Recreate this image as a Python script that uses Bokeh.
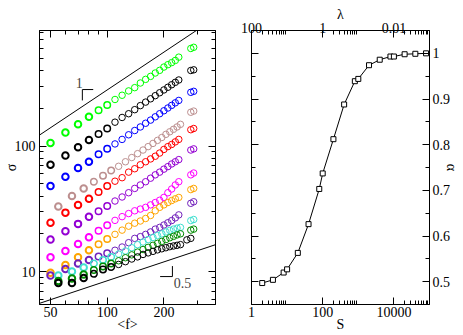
import numpy as np
from bokeh.plotting import figure
from bokeh.layouts import row
from bokeh.models import (LogAxis, LinearAxis, FixedTicker, CustomJSTickFormatter,
                          Label, ColumnDataSource, Range1d)
from bokeh.embed import file_html
from bokeh.resources import INLINE

FONT = "Liberation Serif"

# ---------------- left panel data: sigma vs <f> ----------------
f_main = [50, 60, 70, 80, 90, 100, 110, 120, 130, 140, 150, 160, 170, 180, 190, 200, 210, 220, 230, 240]
f_shift = [55, 65, 75, 85, 95, 105, 115, 125, 135, 145, 155, 165, 175, 185, 195, 205, 215, 225, 235, 245]
f_tail = [278, 288]
f_tail_low = [265, 278]

sig_green = [106, 128, 149, 171, 193, 212, 235, 254, 275, 292, 318, 340, 359, 382, 401, 426, 445, 462, 481, 511]
sig_green_tail = [599, 612]
sig_black = [71, 84, 98, 112, 125, 138, 155, 169, 181, 195, 210, 224, 238, 252, 266, 280, 294, 308, 322, 336]
sig_black_tail = [400, 405]
sig_blue = [48, 57, 67, 75, 86, 95, 104, 113, 123, 133, 142, 152, 161, 171, 181, 191, 201, 211, 221, 231]
sig_blue_tail = [268, 273]
sig_brown = [33, 40, 46, 52, 58, 64, 69, 75, 81, 87, 93, 99, 105, 111, 117, 124, 130, 136, 142, 149]
sig_brown_tail = [186, 190]
sig_red = [24.5, 29.5, 34, 38, 43, 48, 52.5, 56, 62, 66, 71, 75, 79, 83, 88, 94, 99, 103, 108, 113]
sig_red_tail = [135, 138]
sig_violet = [18, 21, 24, 27.3, 30.3, 33.3, 36.5, 39.3, 42.5, 46, 49, 52, 55.5, 59, 62, 65.5, 68.6, 72, 75, 78]
sig_violet_tail = [93, 95]
sig_magenta = [13, 14.6, 16.6, 18.8, 21.2, 23.4, 25.6, 27.4, 29, 30.5, 31.5, 32.5, 34, 35.5, 37, 39, 42.5, 45.5, 49, 52]
sig_magenta_tail = [59, 61]
sig_orange = [9.8, 11.3, 13, 14.8, 16.5, 18.2, 19.8, 21.4, 23, 24.3, 25.3, 26.5, 28, 30.5, 32.5, 34, 35.5, 36.8, 38, 39]
sig_orange_tail = [45, 46]
sig_indigo = [9.3, 10.5, 11.6, 12.4, 13.2, 14, 14.8, 15.7, 17, 18.4, 19, 19.8, 20.7, 21.8, 22.5, 23.5, 24.5, 25.5, 26.8, 28.3]
sig_indigo_tail = [35, 36]
sig_turq = [9.3, 10, 10.8, 11.6, 12.4, 13.1, 13.8, 14.6, 15.5, 16.4, 17.2, 18, 18.7, 19.4, 20, 20.7, 21.3, 21.8, 22.2, 22.5]
sig_turq_tail = [25.5, 26]
sig_green4 = [8.4, 8.8, 9.5, 10.3, 11, 11.6, 12.2, 12.9, 13.6, 14.3, 15, 15.6, 16.2, 16.8, 17.4, 18, 18.6, 19.1, 19.6, 20]
sig_green4_tail = [21.4, 21.8]
sig_black2 = [8.1, 8.1, 8.9, 9.6, 10.4, 10.9, 11.4, 12, 12.6, 13.1, 13.7, 14.1, 14.5, 14.9, 15.2, 15.5, 15.8, 16, 16.2, 16.4]
sig_black2_tail = [17.9, 18.4]

series = [
    ("#00ff00", f_main, sig_green, f_tail, sig_green_tail),
    ("#000000", f_main, sig_black, f_tail, sig_black_tail),
    ("#0000ff", f_main, sig_blue, f_tail, sig_blue_tail),
    ("#bc8f8f", f_shift, sig_brown, f_tail, sig_brown_tail),
    ("#ff0000", f_main, sig_red, f_tail, sig_red_tail),
    ("#9400d3", f_main, sig_violet, f_tail, sig_violet_tail),
    ("#ff00ff", f_main, sig_magenta, f_tail, sig_magenta_tail),
    ("#ffa500", f_main, sig_orange, f_tail, sig_orange_tail),
    ("#7221bc", f_main, sig_indigo, f_tail, sig_indigo_tail),
    ("#40e0d0", f_shift, sig_turq, f_tail, sig_turq_tail),
    ("#008b00", f_shift, sig_green4, f_tail, sig_green4_tail),
    ("#000000", f_shift, sig_black2, f_tail_low, sig_black2_tail),
]

# reference power laws: sigma = c * f^slope
ref_f = [40, 420]
ref_upper_c, ref_upper_slope = 2.8, 1.0
ref_lower_c, ref_lower_slope = 0.845, 0.5

# slope markers
upper_mark_x = [84.3, 73.8, 73.8]
upper_mark_y = [282, 282, 231]
upper_mark_text = ("1", 71, 320)
lower_mark_x = [191, 222, 222]
lower_mark_y = [9.13, 9.13, 11.07]
lower_mark_text = ("0.5", 226, 8.1)

x_major_l = [50, 100, 200]
x_minor_l = [60, 70, 80, 90, 300]
y_major_l = [10, 100]
y_minor_l = [6, 7, 8, 9, 20, 30, 40, 50, 60, 70, 80, 90, 200, 300, 400, 500, 600, 700, 800]

# ---------------- right panel data: alpha vs S ----------------
S_vals = [2, 4, 8, 10, 20, 40, 80, 100, 200, 400, 800, 1000, 2000, 4000, 8000, 10000, 20000, 40000, 80000]
alpha_vals = [0.497, 0.504, 0.52, 0.527, 0.563, 0.626, 0.703, 0.737, 0.812, 0.888, 0.939, 0.944,
              0.974, 0.986, 0.993, 0.993, 0.998, 0.999, 1.0]
x_major_r = [1, 100, 10000]
x_minor_r = [2, 3, 4, 5, 6, 7, 8, 9, 200, 300, 400, 500, 600, 700, 800, 900,
             20000, 30000, 40000, 50000, 60000, 70000, 80000, 90000]
y_major_r = [0.5, 0.6, 0.7, 0.8, 0.9, 1.0]
y_minor_r = [0.55, 0.65, 0.75, 0.85, 0.95]

FS = "14px"


def style_axis(ax, ticker, labels=True, code="return tick.toString()", label=None,
               standoff=3, label_standoff=0):
    ax.ticker = ticker
    ax.axis_line_color = "black"
    ax.major_tick_line_color = "black"
    ax.minor_tick_line_color = "black"
    ax.major_tick_in = 7
    ax.major_tick_out = 0
    ax.minor_tick_in = 4
    ax.minor_tick_out = 0
    ax.major_label_text_font = FONT
    ax.major_label_text_color = "black"
    ax.major_label_text_font_size = FS
    if labels:
        ax.major_label_standoff = standoff
        ax.formatter = CustomJSTickFormatter(code=code)
    else:
        ax.major_label_standoff = 0
        ax.formatter = CustomJSTickFormatter(code="return ''")
    if label is not None:
        ax.axis_label = label
        ax.axis_label_text_font = FONT
        ax.axis_label_text_font_size = FS
        ax.axis_label_text_font_style = "normal"
        ax.axis_label_text_color = "black"
        ax.axis_label_standoff = label_standoff


W1, W2, H = 233, 230, 335

# ---------------- left figure ----------------
p1 = figure(width=W1, height=H, x_axis_type="log", y_axis_type="log",
            x_range=Range1d(43.7, 376), y_range=Range1d(5.47, 833),
            output_backend="svg", toolbar_location=None,
            min_border_left=38, min_border_right=18, min_border_top=30, min_border_bottom=31)
p1.add_layout(LogAxis(), "above")
p1.add_layout(LogAxis(), "right")
p1.grid.visible = False
p1.outline_line_color = "black"
p1.background_fill_color = "white"
p1.border_fill_color = "white"

xt1 = FixedTicker(ticks=x_major_l, minor_ticks=x_minor_l)
yt1 = FixedTicker(ticks=y_major_l, minor_ticks=y_minor_l)
style_axis(p1.below[0], xt1, True, label="<f>", standoff=2, label_standoff=-3)
style_axis(p1.above[0], xt1, False)
style_axis(p1.left[0], yt1, True, label="σ", standoff=4, label_standoff=-7)
style_axis(p1.right[0], yt1, False)

p1.line(ref_f, [ref_upper_c * f ** ref_upper_slope for f in ref_f], line_color="black", line_width=1)
p1.line(ref_f, [ref_lower_c * f ** ref_lower_slope for f in ref_f], line_color="black", line_width=1)

for color, fx, sg, ftx, sgt in series:
    xs = list(fx) + list(ftx)
    ys = list(sg) + list(sgt)
    lw = [2.0 if x < 85 else (1.5 if x < 110 else 1.0) for x in xs]
    src = ColumnDataSource(dict(x=xs, y=ys, lw=lw))
    p1.scatter("x", "y", source=src, marker="circle", size=6.5, fill_color=None,
               line_color=color, line_width="lw")

p1.line(upper_mark_x, upper_mark_y, line_color="black", line_width=1)
p1.line(lower_mark_x, lower_mark_y, line_color="black", line_width=1)
p1.add_layout(Label(x=upper_mark_text[1], y=upper_mark_text[2], text=upper_mark_text[0],
                    text_align="center", text_baseline="middle", text_font=FONT, text_font_size=FS))
p1.add_layout(Label(x=lower_mark_text[1], y=lower_mark_text[2], text=lower_mark_text[0],
                    text_align="left", text_baseline="middle", text_font=FONT, text_font_size=FS))

# ---------------- right figure ----------------
p2 = figure(width=W2, height=H, x_axis_type="log",
            x_range=Range1d(1, 1e5), y_range=Range1d(0.45, 1.05), y_axis_location="right",
            output_backend="svg", toolbar_location=None,
            min_border_left=18, min_border_right=34, min_border_top=30, min_border_bottom=31)
p2.add_layout(LinearAxis(), "left")
p2.add_layout(LogAxis(), "above")
p2.grid.visible = False
p2.outline_line_color = "black"
p2.background_fill_color = "white"
p2.border_fill_color = "white"

xt2 = FixedTicker(ticks=x_major_r, minor_ticks=x_minor_r)
yt2 = FixedTicker(ticks=y_major_r, minor_ticks=y_minor_r)
style_axis(p2.below[0], xt2, True, label="S", standoff=2, label_standoff=-3)
style_axis(p2.above[0], xt2, True, code="return (100/tick).toString()", label="λ",
           standoff=-2, label_standoff=-2)
style_axis(p2.right[0], yt2, True, label="α", standoff=3, label_standoff=-9)
style_axis(p2.left[0], yt2, False)

p2.line(S_vals, alpha_vals, line_color="black", line_width=1)
p2.scatter(S_vals, alpha_vals, marker="square", size=5, fill_color="white",
           line_color="black", line_width=1)

layout = row(p1, p2)
open("out.html", "w").write(file_html(layout, INLINE))
